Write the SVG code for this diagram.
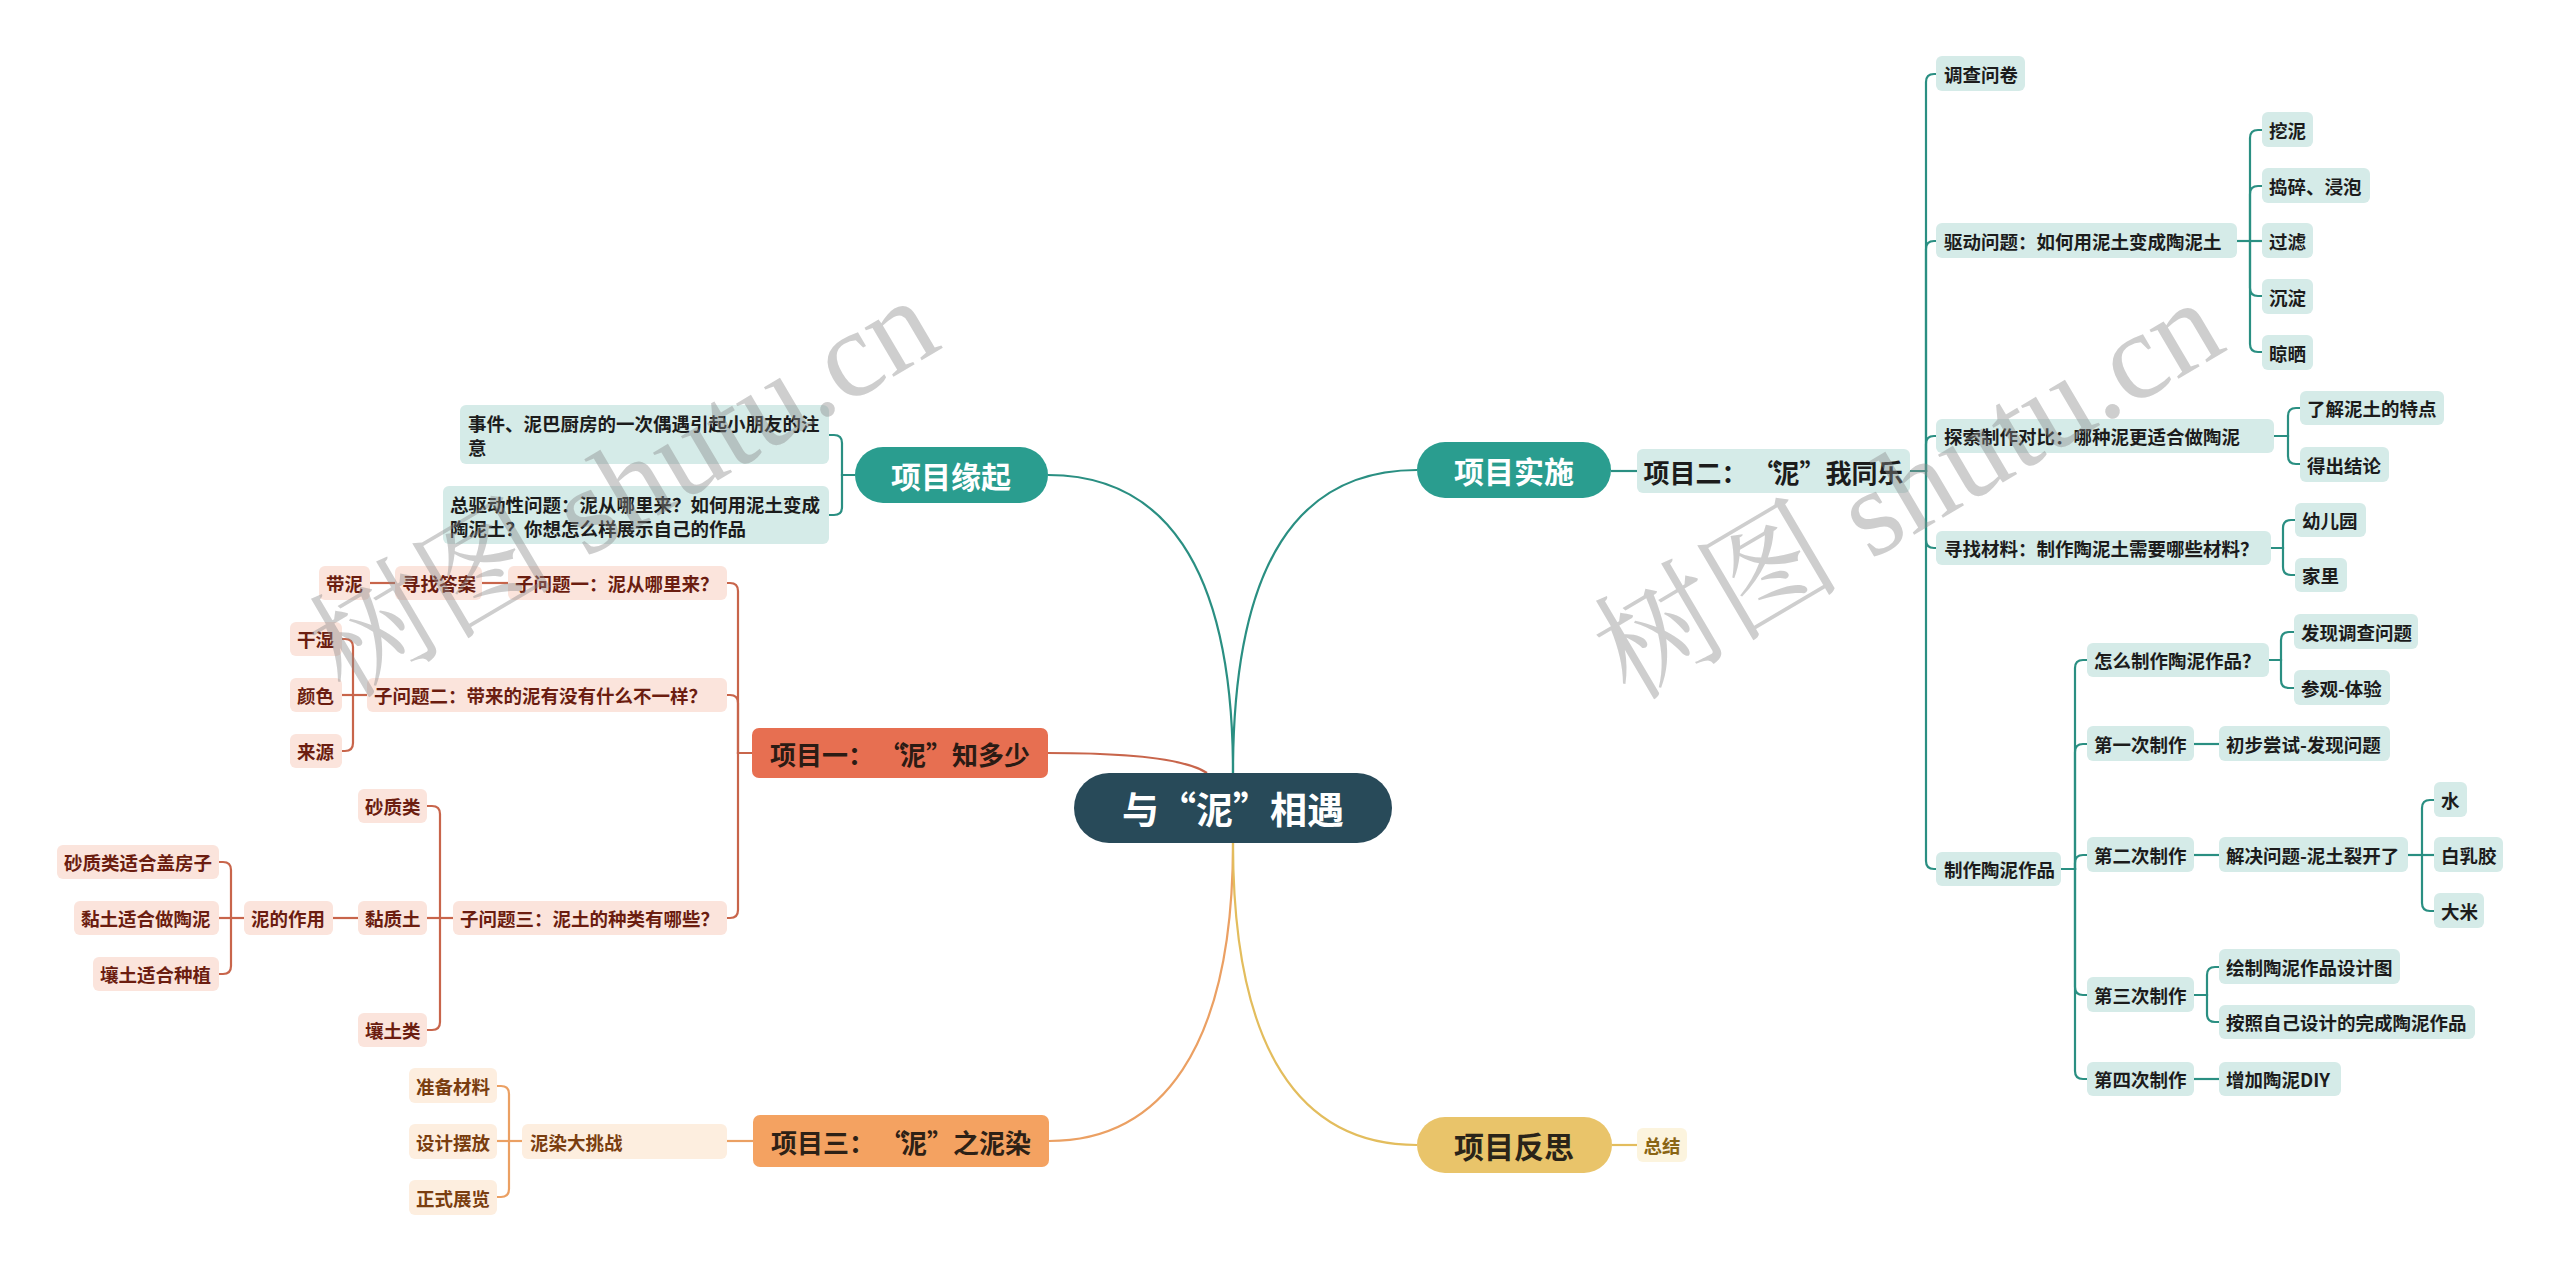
<svg xmlns="http://www.w3.org/2000/svg" width="2560" height="1271" viewBox="0 0 2560 1271">
<style>
text{font-family:"Noto Sans CJK SC","Noto Sans",sans-serif;font-weight:bold;dominant-baseline:central}
.s{font-size:18.5px}
.m{font-size:26px}
.b{font-size:30px}
.tl{fill:#d5ebe8}
.tt{fill:#1c1c1c}
.rl{fill:#fbe4dc}
.rt{fill:#6b1d10}
.ol{fill:#fdeedf}
.ot{fill:#7a3e10}
.c{text-anchor:middle}
.ct path{fill:none;stroke-width:2.2}
.teal path{stroke:#2a8f82}
.red path{stroke:#c8654b}
.org path{stroke:#eba063}
.yel path{stroke:#e3bd5d}
.wm{font-family:"Liberation Serif","Noto Serif CJK SC","Noto Sans CJK SC",serif;font-weight:normal;font-size:124px;fill:#8a8a8a;fill-opacity:0.42;dominant-baseline:alphabetic}
</style>
<rect width="2560" height="1271" fill="#ffffff"/>
<g id="connectors" class="ct">
<g class="teal">
<path d="M1233 773 C1233 560 1160 475 1048 475"/>
<path d="M1233 773 C1233 560 1300 470 1417 470"/>
<path d="M1611 471 H1637"/>
<path d="M1910 471 H1926 V82 Q1926 74 1934 74 H1936"/>
<path d="M1910 471 H1926 V249 Q1926 241 1934 241 H1936"/>
<path d="M1910 471 H1926 V444 Q1926 436 1934 436 H1936"/>
<path d="M1910 471 H1926 V540 Q1926 548 1934 548 H1936"/>
<path d="M1910 471 H1926 V861 Q1926 869 1934 869 H1936"/>
<path d="M2237 241 H2250 V138 Q2250 130 2258 130 H2262"/>
<path d="M2237 241 H2250 V194 Q2250 186 2258 186 H2262"/>
<path d="M2237 241 H2262"/>
<path d="M2237 241 H2250 V288 Q2250 296 2258 296 H2262"/>
<path d="M2237 241 H2250 V344 Q2250 352 2258 352 H2262"/>
<path d="M2274 436 H2288 V416 Q2288 408 2296 408 H2300"/>
<path d="M2274 436 H2288 V456 Q2288 464 2296 464 H2300"/>
<path d="M2271 548 H2283 V528 Q2283 520 2291 520 H2295"/>
<path d="M2271 548 H2283 V567 Q2283 575 2291 575 H2295"/>
<path d="M2061 869 H2075 V668 Q2075 660 2083 660 H2087"/>
<path d="M2061 869 H2075 V752 Q2075 744 2083 744 H2087"/>
<path d="M2061 869 H2075 V863 Q2075 855 2083 855 H2087"/>
<path d="M2061 869 H2075 V987 Q2075 995 2083 995 H2087"/>
<path d="M2061 869 H2075 V1071 Q2075 1079 2083 1079 H2087"/>
<path d="M2269 660 H2281 V640 Q2281 632 2289 632 H2294"/>
<path d="M2269 660 H2281 V680 Q2281 688 2289 688 H2294"/>
<path d="M2194 744 H2219"/>
<path d="M2194 855 H2219"/>
<path d="M2408 855 H2422 V808 Q2422 800 2430 800 H2434"/>
<path d="M2408 855 H2434"/>
<path d="M2408 855 H2422 V903 Q2422 911 2430 911 H2434"/>
<path d="M2194 995 H2207 V975 Q2207 967 2215 967 H2219"/>
<path d="M2194 995 H2207 V1014 Q2207 1022 2215 1022 H2219"/>
<path d="M2194 1079 H2219"/>
<path d="M855 475 H842 V443 Q842 435 834 435 H829"/>
<path d="M855 475 H842 V507 Q842 515 834 515 H829"/>
</g>
<g class="red">
<path d="M1048 753 C1120 753 1185 758 1207 773"/>
<path d="M752 753 H738 V591 Q738 583 730 583 H727"/>
<path d="M752 753 H738 V703 Q738 695 730 695 H727"/>
<path d="M752 753 H738 V910 Q738 918 730 918 H727"/>
<path d="M508 583 H482"/>
<path d="M395 583 H370"/>
<path d="M367 695 H353 V647 Q353 639 345 639 H342"/>
<path d="M367 695 H342"/>
<path d="M367 695 H353 V743 Q353 751 345 751 H342"/>
<path d="M453 918 H440 V814 Q440 806 432 806 H427"/>
<path d="M453 918 H427"/>
<path d="M453 918 H440 V1022 Q440 1030 432 1030 H427"/>
<path d="M358 918 H333"/>
<path d="M244 918 H231 V870 Q231 862 223 862 H219"/>
<path d="M244 918 H219"/>
<path d="M244 918 H231 V966 Q231 974 223 974 H219"/>
</g>
<g class="org">
<path d="M1233 843 C1233 1050 1160 1141 1049 1141"/>
<path d="M753 1141 H727"/>
<path d="M522 1141 H509 V1094 Q509 1086 501 1086 H497"/>
<path d="M522 1141 H497"/>
<path d="M522 1141 H509 V1189 Q509 1197 501 1197 H497"/>
</g>
<g class="yel">
<path d="M1233 843 C1233 1050 1300 1145 1417 1145"/>
<path d="M1612 1145 H1637"/>
</g>
</g>

<g id="root"><rect x="1074" y="773" width="318" height="70" rx="35" fill="#284a59"/><text x="1122 1159 1196 1233 1270 1307" y="808" fill="#ffffff" font-size="37">与“泥”相遇</text></g>

<g id="n-yuanqi"><rect x="855" y="447" width="193" height="56" rx="28" fill="#2a9d8f"/><text class="c b" x="951" y="475" fill="#ffffff">项目缘起</text></g>
<g id="n-shishi"><rect x="1417" y="442" width="194" height="56" rx="28" fill="#2a9d8f"/><text class="c b" x="1514" y="470" fill="#ffffff">项目实施</text></g>
<g id="n-p1"><rect x="752" y="728" width="296" height="50" rx="7" fill="#e76f51"/><text class="m" x="770 796 822 848 879 900 926 952 978 1004" y="753" fill="#2b1b14">项目一：“泥”知多少</text></g>
<g id="n-p3"><rect x="753" y="1115" width="296" height="52" rx="7" fill="#f4a261"/><text class="m" x="771 797 823 849 880 901 927 953 979 1005" y="1141" fill="#2d2116">项目三：“泥”之泥染</text></g>
<g id="n-fansi"><rect x="1417" y="1117" width="195" height="56" rx="28" fill="#e9c46a"/><text class="c b" x="1514" y="1145" fill="#2a2419">项目反思</text></g>
<g id="n-p2"><rect x="1637" y="449" width="273" height="44" rx="6" class="tl"/><text class="m tt" x="1643.5 1669.5 1695.5 1721.5 1752.5 1773.5 1799.5 1825.5 1851.5 1877.5" y="471">项目二：“泥”我同乐</text></g>
<g id="n-zongjie"><rect x="1637" y="1128" width="50" height="34" rx="6" fill="#fcf4de"/><text class="c s" x="1662" y="1145" fill="#8a6514">总结</text></g>

<g id="n-shijian"><rect x="460" y="405" width="369" height="59" rx="6" class="tl"/><text class="s tt" x="468" y="423">事件、泥巴厨房的一次偶遇引起小朋友的注</text><text class="s tt" x="468" y="447">意</text></g>
<g id="n-zongqudong"><rect x="443" y="486" width="386" height="58" rx="6" class="tl"/><text class="s tt" x="450" y="504">总驱动性问题：泥从哪里来？如何用泥土变成</text><text class="s tt" x="450" y="528">陶泥土？你想怎么样展示自己的作品</text></g>

<g id="n-q1"><rect x="508" y="566" width="219" height="34" rx="6" class="rl"/><text class="s rt" x="515" y="583">子问题一：泥从哪里来？</text></g>
<g id="n-xunzhao"><rect x="395" y="566" width="87" height="34" rx="6" class="rl"/><text class="s rt" x="402" y="583">寻找答案</text></g>
<g id="n-dainini"><rect x="319" y="566" width="51" height="34" rx="6" class="rl"/><text class="s rt" x="326" y="583">带泥</text></g>
<g id="n-q2"><rect x="367" y="678" width="360" height="34" rx="6" class="rl"/><text class="s rt" x="374" y="695">子问题二：带来的泥有没有什么不一样？</text></g>
<g id="n-ganshi"><rect x="290" y="622" width="52" height="34" rx="6" class="rl"/><text class="s rt" x="297" y="639">干湿</text></g>
<g id="n-yanse"><rect x="290" y="678" width="52" height="34" rx="6" class="rl"/><text class="s rt" x="297" y="695">颜色</text></g>
<g id="n-laiyuan"><rect x="290" y="734" width="52" height="34" rx="6" class="rl"/><text class="s rt" x="297" y="751">来源</text></g>
<g id="n-q3"><rect x="453" y="901" width="274" height="34" rx="6" class="rl"/><text class="s rt" x="460" y="918">子问题三：泥土的种类有哪些？</text></g>
<g id="n-shazhi"><rect x="358" y="789" width="69" height="34" rx="6" class="rl"/><text class="s rt" x="365" y="806">砂质类</text></g>
<g id="n-nianzhi"><rect x="358" y="901" width="69" height="34" rx="6" class="rl"/><text class="s rt" x="365" y="918">黏质土</text></g>
<g id="n-rangtu"><rect x="358" y="1013" width="69" height="34" rx="6" class="rl"/><text class="s rt" x="365" y="1030">壤土类</text></g>
<g id="n-zuoyong"><rect x="244" y="901" width="89" height="34" rx="6" class="rl"/><text class="s rt" x="251" y="918">泥的作用</text></g>
<g id="n-z1"><rect x="57" y="845" width="162" height="34" rx="6" class="rl"/><text class="s rt" x="64" y="862">砂质类适合盖房子</text></g>
<g id="n-z2"><rect x="74" y="901" width="145" height="34" rx="6" class="rl"/><text class="s rt" x="81" y="918">黏土适合做陶泥</text></g>
<g id="n-z3"><rect x="93" y="957" width="126" height="34" rx="6" class="rl"/><text class="s rt" x="100" y="974">壤土适合种植</text></g>

<g id="n-nirandatiaozhan"><rect x="522" y="1124" width="205" height="35" rx="6" class="ol"/><text class="s ot" x="530" y="1141.5">泥染大挑战</text></g>
<g id="n-zhunbei"><rect x="409" y="1068" width="88" height="35" rx="6" class="ol"/><text class="s ot" x="416" y="1085.5">准备材料</text></g>
<g id="n-sheji"><rect x="409" y="1124" width="88" height="35" rx="6" class="ol"/><text class="s ot" x="416" y="1141.5">设计摆放</text></g>
<g id="n-zhengshi"><rect x="409" y="1180" width="88" height="35" rx="6" class="ol"/><text class="s ot" x="416" y="1197.5">正式展览</text></g>

<g id="n-diaocha"><rect x="1936" y="56" width="89" height="35" rx="6" class="tl"/><text class="s tt" x="1944" y="73.5">调查问卷</text></g>
<g id="n-qudong"><rect x="1936" y="223" width="301" height="35" rx="6" class="tl"/><text class="s tt" x="1944" y="240.5">驱动问题：如何用泥土变成陶泥土</text></g>
<g id="n-wani"><rect x="2262" y="112" width="51" height="35" rx="6" class="tl"/><text class="s tt" x="2269" y="129.5">挖泥</text></g>
<g id="n-daosui"><rect x="2262" y="168" width="108" height="35" rx="6" class="tl"/><text class="s tt" x="2269" y="185.5">捣碎、浸泡</text></g>
<g id="n-guolv"><rect x="2262" y="223" width="51" height="35" rx="6" class="tl"/><text class="s tt" x="2269" y="240.5">过滤</text></g>
<g id="n-chendian"><rect x="2262" y="279" width="51" height="35" rx="6" class="tl"/><text class="s tt" x="2269" y="296.5">沉淀</text></g>
<g id="n-liangshai"><rect x="2262" y="335" width="51" height="35" rx="6" class="tl"/><text class="s tt" x="2269" y="352.5">晾晒</text></g>
<g id="n-tansuo"><rect x="1936" y="419" width="338" height="34" rx="6" class="tl"/><text class="s tt" x="1944" y="436">探索制作对比：哪种泥更适合做陶泥</text></g>
<g id="n-liaojie"><rect x="2300" y="391" width="144" height="34" rx="6" class="tl"/><text class="s tt" x="2307" y="408">了解泥土的特点</text></g>
<g id="n-dechu"><rect x="2300" y="447" width="89" height="35" rx="6" class="tl"/><text class="s tt" x="2307" y="464.5">得出结论</text></g>
<g id="n-cailiao"><rect x="1936" y="531" width="335" height="34" rx="6" class="tl"/><text class="s tt" x="1944" y="548">寻找材料：制作陶泥土需要哪些材料？</text></g>
<g id="n-youeryuan"><rect x="2295" y="503" width="71" height="34" rx="6" class="tl"/><text class="s tt" x="2302" y="520">幼儿园</text></g>
<g id="n-jiali"><rect x="2295" y="558" width="52" height="34" rx="6" class="tl"/><text class="s tt" x="2302" y="575">家里</text></g>
<g id="n-zhizuo"><rect x="1936" y="852" width="125" height="34" rx="6" class="tl"/><text class="s tt" x="1944" y="869">制作陶泥作品</text></g>
<g id="n-zenme"><rect x="2087" y="643" width="182" height="34" rx="6" class="tl"/><text class="s tt" x="2094" y="660">怎么制作陶泥作品？</text></g>
<g id="n-faxian"><rect x="2294" y="614" width="124" height="35" rx="6" class="tl"/><text class="s tt" x="2301" y="631.5">发现调查问题</text></g>
<g id="n-canguan"><rect x="2294" y="670" width="96" height="35" rx="6" class="tl"/><text class="s tt" x="2301" y="687.5">参观-体验</text></g>
<g id="n-di1"><rect x="2087" y="726" width="107" height="35" rx="6" class="tl"/><text class="s tt" x="2094" y="743.5">第一次制作</text></g>
<g id="n-chubu"><rect x="2219" y="726" width="171" height="35" rx="6" class="tl"/><text class="s tt" x="2226" y="743.5">初步尝试-发现问题</text></g>
<g id="n-di2"><rect x="2087" y="837" width="107" height="35" rx="6" class="tl"/><text class="s tt" x="2094" y="854.5">第二次制作</text></g>
<g id="n-jiejue"><rect x="2219" y="837" width="189" height="35" rx="6" class="tl"/><text class="s tt" x="2226" y="854.5">解决问题-泥土裂开了</text></g>
<g id="n-shui"><rect x="2434" y="782" width="33" height="35" rx="6" class="tl"/><text class="s tt" x="2441" y="799.5">水</text></g>
<g id="n-bairujiao"><rect x="2434" y="837" width="69" height="35" rx="6" class="tl"/><text class="s tt" x="2441" y="854.5">白乳胶</text></g>
<g id="n-dami"><rect x="2434" y="893" width="50" height="35" rx="6" class="tl"/><text class="s tt" x="2441" y="910.5">大米</text></g>
<g id="n-di3"><rect x="2087" y="977" width="107" height="35" rx="6" class="tl"/><text class="s tt" x="2094" y="994.5">第三次制作</text></g>
<g id="n-huizhi"><rect x="2219" y="949" width="181" height="35" rx="6" class="tl"/><text class="s tt" x="2226" y="966.5">绘制陶泥作品设计图</text></g>
<g id="n-anzhao"><rect x="2219" y="1005" width="256" height="34" rx="6" class="tl"/><text class="s tt" x="2226" y="1022">按照自己设计的完成陶泥作品</text></g>
<g id="n-di4"><rect x="2087" y="1062" width="107" height="34" rx="6" class="tl"/><text class="s tt" x="2094" y="1079">第四次制作</text></g>
<g id="n-diy"><rect x="2219" y="1062" width="122" height="34" rx="6" class="tl"/><text class="s tt" x="2226" y="1079">增加陶泥DIY</text></g>

<g id="watermark">
<text class="wm" x="345" y="700" transform="rotate(-30.5 345 700)">树图 shutu.cn</text>
<text class="wm" x="1630" y="702" transform="rotate(-30.5 1630 702)">树图 shutu.cn</text>
</g>
</svg>
